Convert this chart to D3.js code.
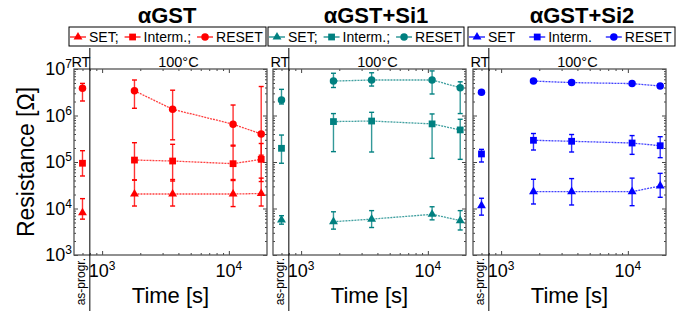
<!DOCTYPE html>
<html>
<head>
<meta charset="utf-8">
<script src="https://cdn.jsdelivr.net/npm/d3@7"></script>
<style>
    body {
        margin: 0;
        background: white;
        font-family: Arial, "Liberation Sans", Helvetica, sans-serif;
    }
</style>
</head>
<body>
<svg id="chart"></svg>
<script>
    // data: [value, low, high] in Ohm
    // first entry is the as-programmed (RT) point, the rest are the 100°C bake times
    const panelTitles = ["αGST", "αGST+Si1", "αGST+Si2"];
    const legendLabels = [
        ["SET;", "Interm.;", "RESET"],
        ["SET;", "Interm.;", "RESET"],
        ["SET", "Interm.", "RESET"]
    ];
    const colors = ["#ff0000", "#008080", "#0000ff"];
    const rtTime = 700;                       // where the as-progr. point sits on the time axis
    const rtLimit = 800;                      // end of the RT strip
    const times = [1800, 3600, 10800, 18000]; // bake times [s]
    const yTicks = [1e3, 1e4, 1e5, 1e6, 1e7];
    const xTicks = [1e3, 1e4];

    const gstSet = [[8.1e3, 5.9e3, 1.63e4], [2.05e4, 1.13e4, 4.1e4], [2.05e4, 1.13e4, 4.2e4], [2.05e4, 1.1e4, 4.2e4], [2.1e4, 1.13e4, 4.5e4]];
    const gstInterm = [[9.4e4, 5e4, 1.75e5], [1.1e5, 4.1e4, 2.6e5], [1.05e5, 3.9e4, 2.4e5], [9.2e4, 4e4, 2.3e5], [1.14e5, 3.8e4, 2.5e5]];
    const gstReset = [[3.85e6, 2.05e6, 4.9e6], [3.4e6, 1.43e6, 5.8e6], [1.36e6, 3e5, 3.5e6], [6.5e5, 2.2e5, 1.68e6], [4e5, 1.4e5, 4.2e6]];

    const si1Set = [[5.7e3, 4.6e3, 7e3], [5.2e3, 3.6e3, 8.5e3], [5.9e3, 3.9e3, 9e3], [7.5e3, 5.7e3, 1.09e4], [5.5e3, 3.45e3, 9e3]];
    const si1Interm = [[1.97e5, 9.4e4, 3.8e5], [7.4e5, 1.67e5, 1.1e6], [7.6e5, 1.64e5, 1.17e6], [6.6e5, 1.2e5, 1.08e6], [4.9e5, 1.14e5, 8.3e5]];
    const si1Reset = [[2.15e6, 1.77e6, 3.65e6], [5.5e6, 4e6, 8.1e6], [5.8e6, 4.3e6, 8.3e6], [5.8e6, 2.9e6, 9.1e6], [3.97e6, 1.1e6, 5.3e6]];

    const si2Set = [[1.15e4, 7.2e3, 1.66e4], [2.3e4, 1.25e4, 4.25e4], [2.3e4, 1.19e4, 4.4e4], [2.3e4, 1.15e4, 4.5e4], [3.05e4, 1.74e4, 5.7e4]];
    const si2Interm = [[1.49e5, 1e5, 1.87e5], [2.93e5, 1.81e5, 4.1e5], [2.79e5, 1.64e5, 3.9e5], [2.56e5, 1.46e5, 3.7e5], [2.24e5, 1.24e5, 3.5e5]];
    const si2Reset = [[3.15e6, 2.95e6, 3.35e6], [5.5e6, 5.1e6, 5.9e6], [5.1e6, 4.8e6, 5.4e6], [4.85e6, 4.5e6, 5.2e6], [4.3e6, 3.9e6, 4.8e6]];

    const panelSeries = [
        [gstSet, gstInterm, gstReset],
        [si1Set, si1Interm, si1Reset],
        [si2Set, si2Interm, si2Reset]
    ];

    // config
    function getConfig() {
        let width = 696;
        let height = 311;
        let panelLefts = [74, 273, 473];
        let panelTop = 69;
        let panelWidth = 193;
        let panelHeight = 186;
        let titleShift = [93, 103, 109];
        let legendWidths = [197, 196, 207];
        let legendGaps = [6, 6, 14];
        let container = d3.select("#chart")
            .attr("width", width)
            .attr("height", height);
        return { width, height, panelLefts, panelTop, panelWidth, panelHeight,
                 titleShift, legendWidths, legendGaps, container };
    }

    function getScales(config) {
        let xScale = d3.scaleLog()
            .domain([600, 20000])
            .range([0, config.panelWidth]);
        let yScale = d3.scaleLog()
            .domain([1e3, 1e7])
            .range([config.panelHeight, 0]);
        return { xScale, yScale };
    }

    function minorTicks(lo, hi) {
        let result = [];
        for (let e = Math.floor(Math.log10(lo)); e <= Math.ceil(Math.log10(hi)); e++) {
            for (let m = 2; m <= 9; m++) {
                let v = m * Math.pow(10, e);
                if (v > lo && v < hi) result.push(v);
            }
        }
        return result;
    }

    function symbolFor(i) {
        let types = [d3.symbolTriangle, d3.symbolSquare, d3.symbolCircle];
        let sizes = [34, 46, 44];
        return d3.symbol().type(types[i]).size(sizes[i]);
    }

    function powerLabel(sel, value) {
        sel.text("10");
        sel.append("tspan")
            .attr("font-size", 12)
            .attr("dy", -7)
            .text(Math.round(Math.log10(value)));
    }

    // frame with inward ticks on four sides
    function drawFrame(g, scales, config) {
        let { xScale, yScale } = scales;
        let { panelWidth, panelHeight } = config;
        let yMinor = minorTicks(1e3, 1e7);
        let xMinor = minorTicks(600, 20000);

        let axes = [
            [d3.axisLeft(yScale), 0, 0, yTicks, yMinor],
            [d3.axisRight(yScale), panelWidth, 0, yTicks, yMinor],
            [d3.axisBottom(xScale), 0, panelHeight, xTicks, xMinor],
            [d3.axisTop(xScale), 0, 0, xTicks, xMinor]
        ];
        axes.forEach(([axis, tx, ty, major, minor]) => {
            [[major, -4], [minor, -2]].forEach(([vals, size]) => {
                let a = g.append("g")
                    .attr("transform", `translate(${tx},${ty})`)
                    .call(axis.tickValues(vals).tickSize(size).tickFormat(""));
                a.select(".domain").remove();
                a.selectAll("line").attr("stroke", "#444").attr("stroke-width", 1);
            });
        });

        g.append("rect")
            .attr("width", panelWidth)
            .attr("height", panelHeight)
            .attr("fill", "none")
            .attr("stroke", "#555")
            .attr("stroke-width", 1.3);
    }

    function drawPanel(p, scales, config) {
        let { xScale, yScale } = scales;
        let { container, panelLefts, panelTop, panelWidth, panelHeight } = config;
        let left = panelLefts[p];
        let color = colors[p];
        let g = container.append("g")
            .attr("transform", `translate(${left},${panelTop})`);

        drawFrame(g, scales, config);

        // RT / 100°C separator
        let sepX = xScale(rtLimit);
        g.append("line")
            .attr("x1", sepX).attr("x2", sepX)
            .attr("y1", -21).attr("y2", config.height - panelTop)
            .attr("stroke", "black")
            .attr("stroke-width", 1);

        g.append("text")
            .attr("x", sepX / 2 - 1)
            .attr("y", -2)
            .attr("text-anchor", "middle")
            .attr("font-size", 14.5)
            .text("RT");
        g.append("text")
            .attr("x", (sepX + panelWidth) / 2)
            .attr("y", -2)
            .attr("text-anchor", "middle")
            .attr("font-size", 14.5)
            .text("100°C");

        // series
        panelSeries[p].forEach((series, s) => {
            let points = series.map((d, i) => ({
                t: i === 0 ? rtTime : times[i - 1],
                v: d[0], lo: d[1], hi: d[2]
            }));

            let line = d3.line()
                .x(d => xScale(d.t))
                .y(d => yScale(d.v));
            g.append("path")
                .attr("d", line(points.slice(1)))
                .attr("fill", "none")
                .attr("stroke", color)
                .attr("stroke-width", 1.3)
                .attr("stroke-opacity", 0.75)
                .attr("stroke-dasharray", "2,1");

            let bars = g.append("g")
                .attr("stroke", color)
                .attr("stroke-width", 1.4);
            bars.selectAll(".err")
                .data(points)
                .enter()
                .append("line")
                .attr("x1", d => xScale(d.t))
                .attr("x2", d => xScale(d.t))
                .attr("y1", d => yScale(d.lo))
                .attr("y2", d => yScale(d.hi))
                .attr("stroke-opacity", 0.8);
            ["lo", "hi"].forEach(k => {
                bars.selectAll(".cap-" + k)
                    .data(points)
                    .enter()
                    .append("line")
                    .attr("x1", d => xScale(d.t) - 2.5)
                    .attr("x2", d => xScale(d.t) + 2.5)
                    .attr("y1", d => yScale(d[k]))
                    .attr("y2", d => yScale(d[k]));
            });

            g.selectAll(".mark-" + s)
                .data(points)
                .enter()
                .append("path")
                .attr("d", symbolFor(s))
                .attr("transform", d => `translate(${xScale(d.t)},${yScale(d.v)})`)
                .attr("fill", color);
        });

        // x tick labels
        xTicks.forEach(t => {
            let txt = g.append("text")
                .attr("x", xScale(t))
                .attr("y", panelHeight + 22)
                .attr("text-anchor", "middle")
                .attr("font-size", 18);
            powerLabel(txt, t);
        });

        g.append("text")
            .attr("transform", `translate(${xScale(rtTime) + 3},${panelHeight + 3}) rotate(-90)`)
            .attr("text-anchor", "end")
            .attr("font-size", 12)
            .text("as-progr.");

        g.append("text")
            .attr("x", panelWidth / 2)
            .attr("y", panelHeight + 48)
            .attr("text-anchor", "middle")
            .attr("font-size", 22)
            .text("Time [s]");

        // title and legend
        container.append("text")
            .attr("x", left + config.titleShift[p])
            .attr("y", 23)
            .attr("text-anchor", "middle")
            .attr("font-size", 22)
            .attr("font-weight", "bold")
            .text(panelTitles[p]);

        drawLegend(p, config);
    }

    function drawLegend(p, config) {
        let { container, panelLefts, legendWidths, legendGaps } = config;
        let color = colors[p];
        let x0 = panelLefts[p] - 5;
        let lg = container.append("g")
            .attr("transform", `translate(${x0},27)`);
        lg.append("rect")
            .attr("width", legendWidths[p])
            .attr("height", 19)
            .attr("fill", "white")
            .attr("stroke", "black")
            .attr("stroke-width", 1);

        let x = 1;
        legendLabels[p].forEach((label, s) => {
            lg.append("line")
                .attr("x1", x).attr("x2", x + 16)
                .attr("y1", 10).attr("y2", 10)
                .attr("stroke", color)
                .attr("stroke-width", 1.2);
            lg.append("path")
                .attr("d", symbolFor(s))
                .attr("transform", `translate(${x + 8},10)`)
                .attr("fill", color);
            let txt = lg.append("text")
                .attr("x", x + 19)
                .attr("y", 15)
                .attr("font-size", 14)
                .text(label);
            x = x + 19 + txt.node().getComputedTextLength() + legendGaps[p];
        });
    }

    function drawAxisLabels(scales, config) {
        let { yScale } = scales;
        let { container, panelLefts, panelTop } = config;
        yTicks.forEach(t => {
            let txt = container.append("text")
                .attr("x", panelLefts[0] - 2)
                .attr("y", panelTop + yScale(t) + 6)
                .attr("text-anchor", "end")
                .attr("font-size", 18);
            powerLabel(txt, t);
        });

        container.append("text")
            .attr("transform", `translate(34,${panelTop + 93}) rotate(-90)`)
            .attr("text-anchor", "middle")
            .attr("font-size", 23)
            .text("Resistance [Ω]");
    }

    function showChart() {
        let config = getConfig();
        let scales = getScales(config);
        panelTitles.forEach((t, p) => drawPanel(p, scales, config));
        drawAxisLabels(scales, config);
    }

    showChart();
</script>
</body>
</html>
